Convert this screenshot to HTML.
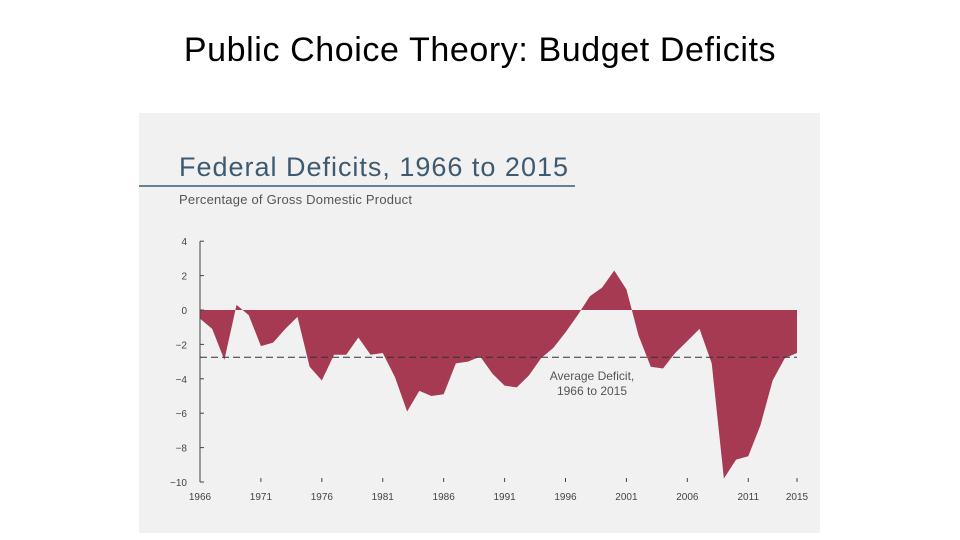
<!DOCTYPE html>
<html><head><meta charset="utf-8"><style>
body{margin:0;width:960px;height:540px;background:#fff;overflow:hidden;font-family:"Liberation Sans",sans-serif}
#title{position:absolute;left:0;width:960px;top:31px;text-align:center;font-size:34px;letter-spacing:0.6px;color:#000}
svg{position:absolute;left:0;top:0}
</style></head><body>
<div id="title">Public Choice Theory: Budget Deficits</div>
<svg width="960" height="540">
<rect x="139" y="113" width="681" height="420" fill="#f1f1f1"/>
<text x="179" y="176" font-size="27" letter-spacing="1" fill="#3e5a70" textLength="390">Federal Deficits, 1966 to 2015</text>
<line x1="139" y1="186" x2="575" y2="186" stroke="#3e5a70" stroke-width="1.5"/>
<text x="179" y="204" font-size="13" fill="#555" textLength="233">Percentage of Gross Domestic Product</text>
<g id="g"></g>
</svg>
<script>
const years=[1966,1967,1968,1969,1970,1971,1972,1973,1974,1975,1976,1977,1978,1979,1980,1981,1982,1983,1984,1985,1986,1987,1988,1989,1990,1991,1992,1993,1994,1995,1996,1997,1998,1999,2000,2001,2002,2003,2004,2005,2006,2007,2008,2009,2010,2011,2012,2013,2014,2015];
const values=[-0.5,-1.1,-2.9,0.3,-0.3,-2.1,-1.9,-1.1,-0.4,-3.3,-4.1,-2.6,-2.6,-1.6,-2.6,-2.5,-3.9,-5.9,-4.7,-5.0,-4.9,-3.1,-3.0,-2.7,-3.7,-4.4,-4.5,-3.8,-2.8,-2.2,-1.3,-0.3,0.8,1.3,2.3,1.2,-1.5,-3.3,-3.4,-2.5,-1.8,-1.1,-3.1,-9.8,-8.7,-8.5,-6.7,-4.1,-2.8,-2.5];
const yTicks=[4,2,0,-2,-4,-6,-8,-10];
const xTicks=[1966,1971,1976,1981,1986,1991,1996,2001,2006,2011,2015];
const average=-2.75;
const X=y=>200+(y-1966)*(597/49);
const Y=v=>310-v*17.2;
const g=document.getElementById('g');
const NS='http://www.w3.org/2000/svg';
function mk(t,a){const e=document.createElementNS(NS,t);for(const k in a)e.setAttribute(k,a[k]);g.appendChild(e);return e;}
let d='M'+X(years[0])+','+Y(0);
years.forEach((y,i)=>{d+=' L'+X(y)+','+Y(values[i]);});
d+=' L'+X(years[years.length-1])+','+Y(0)+' Z';
const area=mk('path',{d:d,fill:'#a63a52'});


const ax=mk('line',{x1:200,y1:Y(4),x2:200,y2:Y(-10),stroke:'#444','stroke-width':1});


yTicks.forEach(v=>{
 const t=mk('line',{x1:200,x2:204,y1:Y(v),y2:Y(v),stroke:'#444'});
 
 
 const l=mk('text',{x:187,y:Y(v)+4,'font-size':10,fill:'#444','text-anchor':'end'});
 l.textContent=v<0?'\u2212'+(-v):String(v);
 
 
});
xTicks.forEach(y=>{
 const t=mk('line',{x1:X(y),x2:X(y),y1:Y(-10)-4,y2:Y(-10),stroke:'#444'});
 
 
 const l=mk('text',{x:X(y),y:Y(-10)+18,'font-size':10,fill:'#444','text-anchor':'middle'});
 l.textContent=y;
 
 
});
const avg=mk('line',{x1:200,x2:797,y1:Y(average),y2:Y(average),stroke:'#333','stroke-dasharray':'7,4','stroke-width':1});


[['Average Deficit,',380],['1966 to 2015',395]].forEach(([s,yy])=>{
 const l=mk('text',{x:592,y:yy,'font-size':12,fill:'#555','text-anchor':'middle'});
 l.textContent=s;
 
 
});
</script>
</body></html>
